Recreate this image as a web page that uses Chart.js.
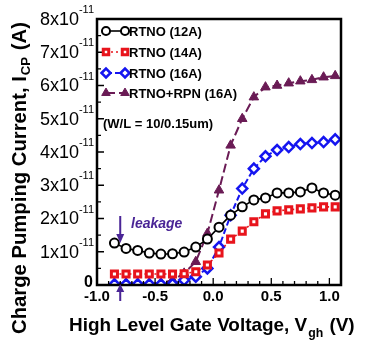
<!DOCTYPE html>
<html>
<head>
<meta charset="utf-8">
<script src="https://cdn.jsdelivr.net/npm/chart.js@4.4.1/dist/chart.umd.min.js"></script>
<style>
  html, body { margin: 0; padding: 0; background: #fff; }
  #box { position: relative; width: 365px; height: 341px; }
</style>
</head>
<body>
<div id="box"><canvas id="cpChart"></canvas></div>
<script>
// gate voltage (V) and charge pumping current (x10^-11 A)
var vgh = [-0.85, -0.75, -0.65, -0.55, -0.45, -0.35, -0.25, -0.15, -0.05, 0.05,
           0.15, 0.25, 0.35, 0.45, 0.55, 0.65, 0.75, 0.85, 0.95, 1.05];
var rtno12 = [1.26, 1.1, 1.04, 0.96, 0.93, 0.94, 0.99, 1.14, 1.38, 1.74,
              2.1, 2.35, 2.56, 2.62, 2.77, 2.77, 2.8, 2.92, 2.77, 2.7];
var rtno14 = [0.33, 0.33, 0.33, 0.33, 0.33, 0.33, 0.34, 0.4, 0.6, 0.96,
              1.38, 1.62, 1.9, 2.14, 2.23, 2.26, 2.29, 2.32, 2.35, 2.35];
var rtno16 = [0.02, 0.02, 0.02, 0.02, 0.02, 0.03, 0.15, 0.25, 0.5, 1.14,
              2.1, 2.9, 3.5, 3.87, 4.06, 4.15, 4.24, 4.27, 4.3, 4.38];
var rtnoRpn16 = [0.05, 0.05, 0.05, 0.05, 0.06, 0.15, 0.35, 0.7, 1.55, 2.85,
                 4.2, 5.0, 5.65, 5.95, 6.0, 6.07, 6.13, 6.17, 6.25, 6.29];

var seriesNames = ['RTNO (12A)', 'RTNO (14A)', 'RTNO (16A)', 'RTNO+RPN (16A)'];
var xTicks = [-1.0, -0.5, 0.0, 0.5, 1.0];
var yTicks = [0, 1, 2, 3, 4, 5, 6, 7, 8];

function pts(arr) {
  return arr.map(function(v, i) { return { x: vgh[i], y: v }; });
}

var purple = '#6a1b55';
var note = '#4a2596';
var FONT = '"Liberation Sans", Arial, sans-serif';

var ds = [
  { label: seriesNames[0], data: pts(rtno12), borderColor: '#000', backgroundColor: '#fff',
    borderWidth: 1.6, pointStyle: 'circle', pointRadius: 4.5, pointBorderWidth: 2,
    pointBackgroundColor: '#fff', pointBorderColor: '#000' },
  { label: seriesNames[1], data: pts(rtno14), borderColor: '#e8141c', backgroundColor: '#fff',
    borderWidth: 1.6, borderDash: [2, 3], pointStyle: 'rect', pointRadius: 4.3, pointBorderWidth: 3,
    pointBackgroundColor: '#fff', pointBorderColor: '#e8141c' },
  { label: seriesNames[2], data: pts(rtno16), borderColor: '#1515f0', backgroundColor: '#fff',
    borderWidth: 2, borderDash: [6, 3], pointStyle: 'rectRot', pointRadius: 5, pointBorderWidth: 2.5,
    pointBackgroundColor: '#fff', pointBorderColor: '#1515f0' },
  { label: seriesNames[3], data: pts(rtnoRpn16), borderColor: purple, backgroundColor: purple,
    borderWidth: 2, borderDash: [9, 4], pointStyle: 'triangle', pointRadius: 5.5, pointBorderWidth: 1,
    pointBackgroundColor: purple, pointBorderColor: purple }
];

function fitFont(ctx, text, weight, target) {
  var size = 20;
  ctx.font = weight + ' ' + size + 'px ' + FONT;
  var w = ctx.measureText(text).width;
  return size * target / w;
}

var decor = {
  id: 'decor',
  afterDraw: function(chart) {
    var ctx = chart.ctx;
    var a = chart.chartArea;
    var xs = chart.scales.x, ys = chart.scales.y;
    ctx.save();
    ctx.fillStyle = '#000';
    ctx.strokeStyle = '#000';

    // frame
    ctx.lineWidth = 2.5;
    ctx.strokeRect(a.left, a.top, a.right - a.left, a.bottom - a.top);

    // inward tick marks
    ctx.lineWidth = 1.3;
    ctx.beginPath();
    for (var t = -1.0; t <= 1.1001; t += 0.1) {
      var px = xs.getPixelForValue(t);
      var major = Math.abs(Math.round(t * 10) % 5) === 0;
      ctx.moveTo(px, a.bottom);
      ctx.lineTo(px, a.bottom - (major ? 7 : 4));
    }
    for (var v = 0.5; v < 8; v += 0.5) {
      var py = ys.getPixelForValue(v);
      ctx.moveTo(a.left, py);
      ctx.lineTo(a.left + (v % 1 === 0 ? 7 : 4), py);
    }
    ctx.stroke();

    // x tick labels
    ctx.font = 'bold 15px ' + FONT;
    ctx.textAlign = 'center';
    ctx.textBaseline = 'top';
    xTicks.forEach(function(t) {
      ctx.fillText(t.toFixed(1), xs.getPixelForValue(t), a.bottom + 4);
    });

    // y tick labels n x 10^-11
    ctx.textBaseline = 'middle';
    yTicks.forEach(function(t) {
      var py = ys.getPixelForValue(t);
      ctx.textAlign = 'right';
      if (t === 0) {
        ctx.font = 'bold 16px ' + FONT;
        ctx.fillText('0', a.left - 4, py - 2);
        return;
      }
      ctx.font = '11px ' + FONT;
      var sw = ctx.measureText('-11').width;
      ctx.fillText('-11', a.left - 3, py - 9);
      ctx.font = '18px ' + FONT;
      ctx.fillText(t + 'x10', a.left - 3 - sw, py + 1);
    });

    // axis titles
    var yt = 'Charge Pumping Current, I';
    var ys1 = fitFont(ctx, yt + 'CP (A)', 'bold', 320);
    ctx.save();
    ctx.translate(26, 334);
    ctx.rotate(-Math.PI / 2);
    ctx.textAlign = 'left';
    ctx.textBaseline = 'alphabetic';
    ctx.font = 'bold ' + ys1 + 'px ' + FONT;
    ctx.fillText(yt, 0, 0);
    var w1 = ctx.measureText(yt).width;
    ctx.font = 'bold ' + (ys1 * 0.65) + 'px ' + FONT;
    ctx.fillText('CP', w1 + 1, 4);
    var w2 = ctx.measureText('CP').width;
    ctx.font = 'bold ' + ys1 + 'px ' + FONT;
    ctx.fillText(' (A)', w1 + w2 + 2, 0);
    ctx.restore();

    var xt = 'High Level Gate Voltage, V';
    var xs1 = fitFont(ctx, xt + 'gh (V)', 'bold', 292);
    ctx.textAlign = 'left';
    ctx.textBaseline = 'alphabetic';
    ctx.font = 'bold ' + xs1 + 'px ' + FONT;
    ctx.fillText(xt, 69, 331);
    var xw = ctx.measureText(xt).width;
    ctx.font = 'bold ' + (xs1 * 0.65) + 'px ' + FONT;
    ctx.fillText('gh', 70 + xw, 337);
    var xw2 = ctx.measureText('gh').width;
    ctx.font = 'bold ' + xs1 + 'px ' + FONT;
    ctx.fillText(' (V)', 71 + xw + xw2, 331);

    // legend inside plot
    var rowY = [31, 52, 73, 93];
    chart.data.datasets.forEach(function(d, i) {
      var y = rowY[i];
      ctx.save();
      ctx.strokeStyle = d.borderColor;
      ctx.lineWidth = d.borderWidth;
      ctx.setLineDash(d.borderDash || []);
      ctx.beginPath();
      ctx.moveTo(106, y);
      ctx.lineTo(125, y);
      ctx.stroke();
      ctx.setLineDash([]);
      [106, 125].forEach(function(mx) {
        ctx.fillStyle = d.pointBackgroundColor;
        ctx.strokeStyle = d.pointBorderColor;
        ctx.lineWidth = d.pointBorderWidth;
        Chart.helpers.drawPoint(ctx, { pointStyle: d.pointStyle, radius: d.pointRadius * 0.9,
          borderWidth: d.pointBorderWidth, rotation: 0 }, mx, y);
      });
      ctx.restore();
      ctx.fillStyle = '#000';
      ctx.font = 'bold 13px ' + FONT;
      ctx.textAlign = 'left';
      ctx.textBaseline = 'middle';
      ctx.fillText(d.label, 129, y + 1);
    });
    ctx.font = 'bold 13px ' + FONT;
    ctx.fillText('(W/L = 10/0.15um)', 103, 124);

    // leakage note and arrows
    ctx.fillStyle = note;
    ctx.strokeStyle = note;
    ctx.font = 'italic bold 14px ' + FONT;
    ctx.fillText('leakage', 131, 224);
    var ax = xs.getPixelForValue(-0.8);
    ctx.lineWidth = 2;
    ctx.beginPath();
    ctx.moveTo(ax, 216); ctx.lineTo(ax, 236);
    ctx.moveTo(ax, 289); ctx.lineTo(ax, 301);
    ctx.stroke();
    ctx.beginPath();
    ctx.moveTo(ax - 4, 234); ctx.lineTo(ax + 4, 234); ctx.lineTo(ax, 243); ctx.closePath();
    ctx.moveTo(ax - 4, 292); ctx.lineTo(ax + 4, 292); ctx.lineTo(ax, 284); ctx.closePath();
    ctx.fill();
    ctx.restore();
  }
};

var ctx = document.getElementById('cpChart').getContext('2d');
var cpChart = new Chart(ctx, {
  type: 'line',
  data: { datasets: ds },
  options: {
    responsive: true,
    maintainAspectRatio: false,
    animation: false,
    layout: { padding: { left: 97, right: 24, top: 19, bottom: 56 } },
    plugins: { legend: { display: false }, tooltip: { enabled: false } },
    scales: {
      x: { type: 'linear', min: -1.0, max: 1.1, display: false },
      y: { min: 0, max: 8, display: false }
    }
  },
  plugins: [decor]
});
</script>
</body>
</html>
